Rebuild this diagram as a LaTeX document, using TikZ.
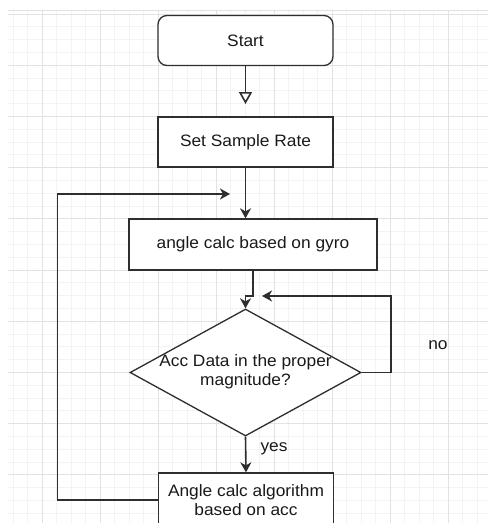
\documentclass[tikz,border=0pt]{standalone}
\usepackage{fontspec}
\setmainfont{Liberation Sans}[FakeStretch=1.05]
\usetikzlibrary{arrows.meta,shapes.geometric}
\definecolor{gridminor}{HTML}{F3F3F3}
\definecolor{gridmajor}{HTML}{E2E2E2}
\definecolor{linegray}{HTML}{2E2E2E}

\begin{document}
\begin{tikzpicture}
[x=1pt,y=-1pt,%
  every node/.style={font=\fontsize{16.5}{19}\selectfont,text=black!90},%
  flowbox/.style={draw=linegray,fill=white,line width=1.3pt,minimum width=175pt,
    minimum height=50pt,align=center,inner sep=2pt},%
  decision/.style={diamond,draw=linegray,fill=white,line width=1.3pt,aspect=1.82,
    inner sep=0pt,minimum width=231pt,minimum height=127pt},%
  flowline/.style={draw=linegray,line width=1.6pt,
    -{Stealth[length=10pt,width=11pt,inset=3pt]}},%
  startline/.style={draw=linegray,line width=1.6pt,
    -{Triangle[open,length=12pt,width=13pt,fill=white]}}]
\fill[white] (0,0) rectangle (488,523);
\useasboundingbox (0,0) rectangle (488,523);
% background grid
\foreach \gx in {13,27.5,...,488} \draw[gridminor,line width=0.8pt] (\gx,10) -- (\gx,523);
\foreach \gy in {26.8,39.6,...,523} \draw[gridminor,line width=0.8pt] (8,\gy) -- (488,\gy);
\foreach \gx in {42,100,...,488} \draw[gridmajor,line width=0.8pt] (\gx,10) -- (\gx,523);
\foreach \gy in {14,65.2,...,523} \draw[gridmajor,line width=0.8pt] (8,\gy) -- (488,\gy);
\draw[gridmajor,line width=0.8pt] (8,10) -- (488,10);
% steps
\node[flowbox,rounded corners=9pt] (start) at (245.5,40.5) {Start};
\node[flowbox] (rate) at (245.5,142) {Set Sample Rate};
\node[flowbox,minimum width=248pt,minimum height=51pt] (gyro) at (253,244.5) {angle calc based on gyro};
\node[decision] (check) at (245.5,372.5)
  {\makebox[0pt]{\begin{tabular}{@{}c@{}}Acc Data in the proper\\magnitude?\end{tabular}}};
\node[flowbox,minimum height=54pt] (acc) at (246,500) {Angle calc algorithm\\based on acc};
\node (no) at (438,345) {no};
\node (yes) at (274,449) {yes};
% connectors
\coordinate (startend) at (245.5,104);
\coordinate (gyrojog) at (253,296);
\coordinate (nocorner) at (391,296);
\coordinate (noend) at (262,296);
\coordinate (loopcorner) at (57.5,194);
\coordinate (loopend) at (230,194);
\draw[startline] (start.south) -- (startend);
\draw[flowline] (rate.south) -- (rate.south |- gyro.north);
\draw[flowline] (gyro.south) -- (gyrojog) -| (check.north);
\draw[flowline] (check.east) -| (nocorner) -- (noend);
\draw[flowline] (check.south) -- (acc.north);
\draw[flowline] (acc.west) -| (loopcorner) -- (loopend);
\end{tikzpicture}
\end{document}
